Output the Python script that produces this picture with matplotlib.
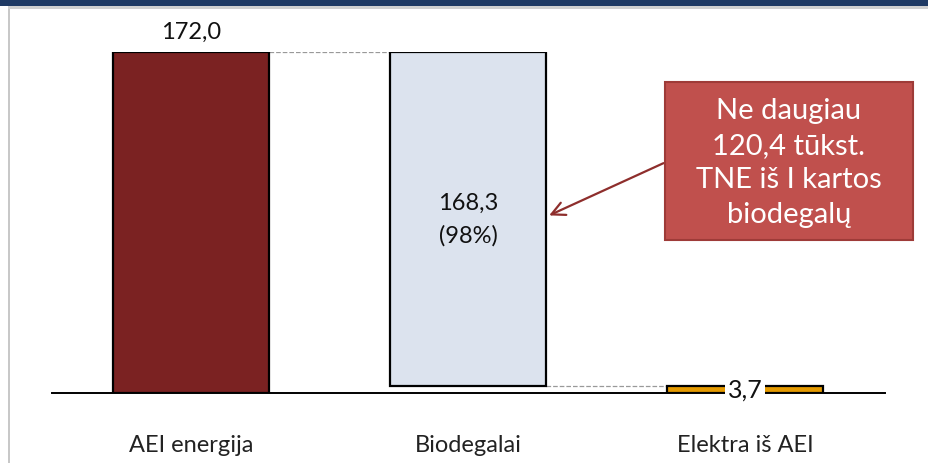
import numpy as np
import matplotlib.pyplot as plt
from matplotlib.patches import Rectangle, FancyBboxPatch

plt.rcParams['font.family'] = ['Lato', 'DejaVu Sans']

categories = ['AEI energija', 'Biodegalai', 'Elektra iš AEI']
values = [172.0, 168.3, 3.7]
bottoms = [0.0, 172.0 - 168.3, 0.0]
value_labels = ['172,0', '168,3\n(98%)', '3,7']
colors = ['#7B2222', '#DCE3EE', '#E59A00']
callout_text = 'Ne daugiau\n120,4 tūkst.\nTNE iš I kartos\nbiodegalų'

W, H = 929, 464
fig = plt.figure(figsize=(W / 100, H / 100), dpi=100)

# frame: navy banner at top, grey rules left and under the banner
fig.patches.append(Rectangle((0, 1 - 7 / H), 1, 7 / H, transform=fig.transFigure,
                             facecolor='#1F3A64', edgecolor='none', zorder=0))
fig.patches.append(Rectangle((8 / W, 0), 2 / W, 1 - 7 / H, transform=fig.transFigure,
                             facecolor='#C8C8C8', edgecolor='none', zorder=0))
fig.patches.append(Rectangle((8 / W, 1 - 10 / H), 1, 3 / H, transform=fig.transFigure,
                             facecolor='#D0D0D0', edgecolor='none', zorder=0))

# axes placed so that 0 sits at y=394 px and 172 at y=53 px
ax = fig.add_axes([52 / W, (H - 394) / H, 833 / W, 341 / H])
ax.patch.set_visible(False)
x = np.arange(len(categories))
bw = 0.563
bars = ax.bar(x, values, bw, bottom=bottoms, color=colors, edgecolor='black',
              linewidth=1.6, zorder=3)
ax.set_xlim(-0.502, 2.505)
ax.set_ylim(0, 172.0)
for s in ['top', 'right', 'left']:
    ax.spines[s].set_visible(False)
ax.spines['bottom'].set_linewidth(1.4)
ax.set_yticks([])
ax.set_xticks([])
for xi, c in zip(x, categories):
    ax.text(xi, -0.150, c, transform=ax.get_xaxis_transform(), ha='center', va='center',
            fontsize=17, color='#222222')

# dashed connectors between bars
ax.plot([x[0] + bw / 2, x[1] - bw / 2], [values[0], values[0]], ls='--', color='#999999',
        lw=0.9, zorder=2)
ax.plot([x[1] + bw / 2, x[2] - bw / 2], [bottoms[1], bottoms[1]], ls='--', color='#999999',
        lw=0.9, zorder=2)

# value labels
ax.text(x[0], values[0] + 5, value_labels[0], ha='center', va='bottom', fontsize=17,
        color='#111111', clip_on=False)
ax.text(x[1], bottoms[1] + values[1] / 2, value_labels[1], ha='center', va='center',
        fontsize=17, color='#111111', linespacing=1.6, zorder=4)
ax.text(x[2], values[2] / 2, value_labels[2], ha='center', va='center', fontsize=18,
        color='#111111', zorder=4,
        bbox=dict(boxstyle='square,pad=0.12', facecolor='white', edgecolor='none'))

# callout box with arrow
box = FancyBboxPatch((665 / W, (H - 241) / H), 248 / W, 158 / H, transform=fig.transFigure,
                     boxstyle='square,pad=0', facecolor='#C0504D', edgecolor='#9E3B38',
                     linewidth=1.5, zorder=5)
fig.patches.append(box)
fig.text((665 + 124) / W, (H - 163) / H, callout_text, ha='center', va='center',
         fontsize=21, color='white', linespacing=1.42, zorder=6)
ax.annotate('', xy=(x[1] + bw / 2 + 0.002, 89.0), xycoords='data',
            xytext=(666 / W, (H - 163) / H), textcoords='figure fraction',
            arrowprops=dict(arrowstyle='->', color='#8E2E2C', lw=1.6,
                            mutation_scale=24), zorder=4)

fig.savefig('out.png', dpi=100)
